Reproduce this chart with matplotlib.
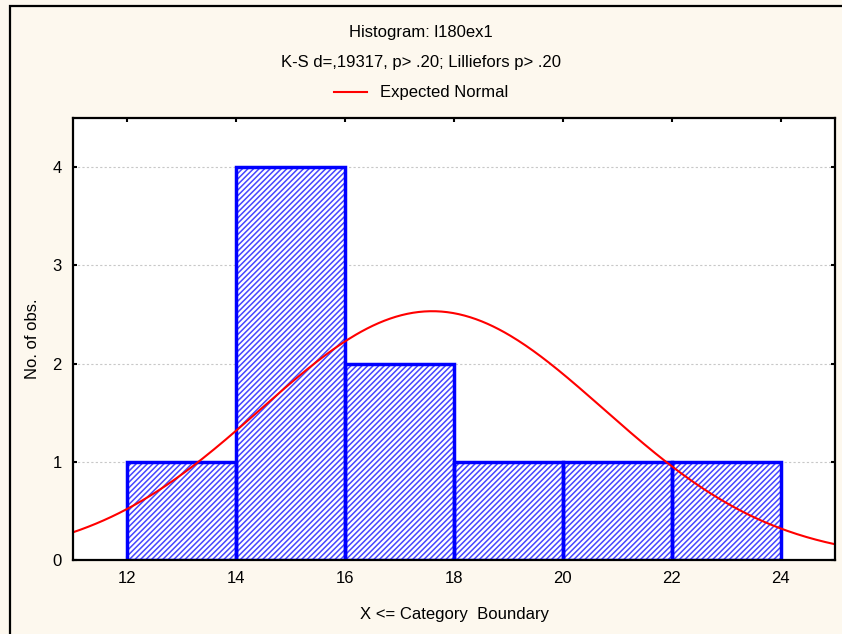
import numpy as np
import matplotlib.pyplot as plt
from matplotlib.patches import Rectangle

# histogram data
bin_edges = [12, 14, 16, 18, 20, 22, 24]
counts = [1, 4, 2, 1, 1, 1]

# expected normal parameters (fitted to the plotted curve)
n_obs = 10
mean = 17.6
sd = 3.15

title1 = "Histogram: l180ex1"
title2 = "K-S d=,19317, p> .20; Lilliefors p> .20"
legend_label = "Expected Normal"

plt.rcParams['font.family'] = ['Liberation Sans', 'DejaVu Sans']
plt.rcParams['hatch.linewidth'] = 1.1

fig = plt.figure(figsize=(8.42, 6.34), dpi=100)
fig.patch.set_facecolor('#fdf8ee')

# frame around the figure
fig.patches.append(Rectangle((10 / 842, -0.05), 1.2, 1.05 - 6 / 634, transform=fig.transFigure,
                             fill=False, edgecolor='black', linewidth=1.6))

ax = fig.add_axes([73 / 842, 74 / 634, 762 / 842, 442 / 634])
ax.set_facecolor('white')

lefts = bin_edges[:-1]
widths = np.diff(bin_edges)
ax.bar(lefts, counts, width=widths, align='edge', color='white', edgecolor='#4646ff',
       linewidth=0, hatch='//////', zorder=2)
ax.bar(lefts, counts, width=widths, align='edge', fill=False, edgecolor='#0000ff',
       linewidth=2.5, zorder=3)

x = np.linspace(11, 25, 400)
pdf = np.exp(-0.5 * ((x - mean) / sd) ** 2) / (sd * np.sqrt(2 * np.pi))
expected = n_obs * widths[0] * pdf
line, = ax.plot(x, expected, color='#ff0000', linewidth=1.5, zorder=4)

ax.set_xlim(11, 25)
ax.set_ylim(0, 4.5)
ax.set_xticks(bin_edges)
ax.set_yticks([0, 1, 2, 3, 4])
ax.yaxis.grid(True, linestyle=(0, (2, 2)), color='#c8c8c8', linewidth=0.8, zorder=1)
ax.set_axisbelow(True)
ax.tick_params(direction='in', length=3, width=1.5, labelsize=12, top=True, right=True,
               labeltop=False, labelright=False, pad=8)
for s in ax.spines.values():
    s.set_linewidth(1.6)
    s.set_zorder(5)

ax.set_xlabel("X <= Category  Boundary", fontsize=12, labelpad=15)
ax.set_ylabel("No. of obs.", fontsize=12, labelpad=9)

fig.text(0.5, 1 - 32 / 634, title1, ha='center', va='center', fontsize=12)
fig.text(0.5, 1 - 62 / 634, title2, ha='center', va='center', fontsize=12)
fig.legend([line], [legend_label], loc='center', bbox_to_anchor=(0.5, 1 - 93 / 634),
           frameon=False, fontsize=12, handlelength=2.0)

fig.savefig('out.png', dpi=100, facecolor=fig.get_facecolor())
